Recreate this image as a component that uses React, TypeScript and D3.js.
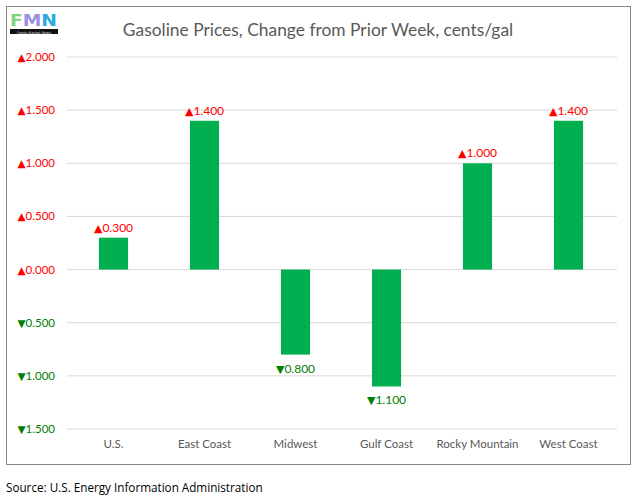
import React from "react";
import * as d3 from "d3";

const categories = ["U.S.", "East Coast", "Midwest", "Gulf Coast", "Rocky Mountain", "West Coast"];
const changes = [0.3, 1.4, -0.8, -1.1, 1.0, 1.4];
const yTicks = [2.0, 1.5, 1.0, 0.5, 0.0, -0.5, -1.0, -1.5];
const title = "Gasoline Prices, Change from Prior Week, cents/gal";
const source = "Source: U.S. Energy Information Administration";

const W = 635, H = 497;
const font = "Lato, 'Open Sans', sans-serif";
const triFont = "'DejaVu Sans', sans-serif";

const arrow = (v: number) => (v >= 0 ? "\u25B2" : "\u25BC");
const num = (v: number) => d3.format(".3f")(Math.abs(v));

export default function App() {
  const x = d3.scaleBand<string>().domain(categories).range([68, 614]).paddingInner(0.68).paddingOuter(0.34);
  const y = d3.scaleLinear().domain([-1.5, 2.0]).range([429, 57]);
  const red = "#ff0000";
  const green = "#008000";
  return (
    <svg width={W} height={H} style={{ position: "absolute", left: 0, top: 0, background: "#fff" }}>
      <rect x={6.5} y={6.5} width={624} height={458} fill="#fff" stroke="#898989" strokeWidth={1} />
      {/* logo */}
      <g>
        <text x={10} y={26} fontFamily={triFont} fontWeight="bold" fontSize={16} textLength={47} lengthAdjust="spacingAndGlyphs">
          <tspan fill="#7fd47a">F</tspan>
          <tspan fill="#9a8fe2">M</tspan>
          <tspan fill="#2aa9df">N</tspan>
        </text>
        <rect x={10} y={29} width={48} height={5} fill="#111" />
        <text x={34} y={33.6} textAnchor="middle" fontFamily={triFont} fontSize={3.5} fill="#ddd">Foods Market News</text>
      </g>
      <text x={318} y={36} textAnchor="middle" fontFamily={font} fontSize={17.4} fill="#595959">{title}</text>
      {yTicks.map((t) => (
        <g key={t}>
          <line x1={67} x2={617} y1={y(t)} y2={y(t)} stroke="#d9d9d9" strokeWidth={1} />
          <text x={55} y={y(t) + 4} textAnchor="end" fontFamily={font} fontSize={11.5} fill={t >= 0 ? red : green}>
            <tspan fontFamily={triFont} fontSize={10.5}>{arrow(t)}</tspan>
            <tspan>{num(t)}</tspan>
          </text>
        </g>
      ))}
      {categories.map((c, i) => {
        const v = changes[i];
        const bx = x(c)!;
        const bw = x.bandwidth();
        const top = y(Math.max(v, 0));
        const bot = y(Math.min(v, 0));
        const cx = bx + bw / 2;
        return (
          <g key={c}>
            <rect x={bx} y={top} width={bw} height={bot - top} fill="#00b050" />
            <text x={cx} y={v >= 0 ? top - 6 : bot + 18} textAnchor="middle" fontFamily={font} fontSize={12} fill={v >= 0 ? red : green}>
              <tspan fontFamily={triFont} fontSize={11}>{arrow(v)}</tspan>
              <tspan>{num(v)}</tspan>
            </text>
            <text x={cx} y={448} textAnchor="middle" fontFamily={font} fontSize={11.5} fill="#595959">{c}</text>
          </g>
        );
      })}
      <text x={6} y={492} fontFamily="'Open Sans', sans-serif" fontSize={11.7} fill="#000">{source}</text>
    </svg>
  );
}
